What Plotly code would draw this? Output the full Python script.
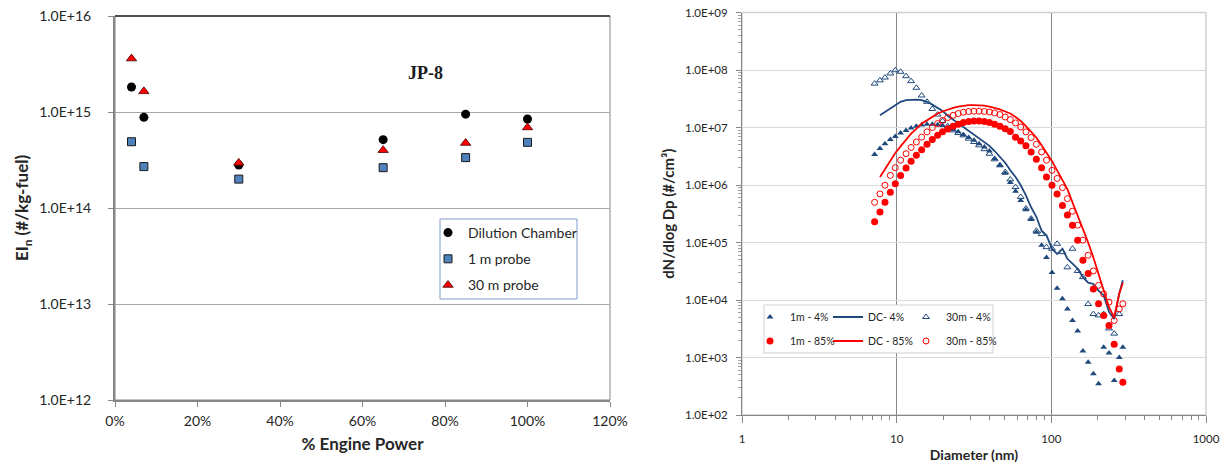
import plotly.graph_objects as go

W, H = 1222, 465

# ---------------- Left chart data ----------------
power_pct = [4, 7, 30, 65, 85, 100]
ei_dilution = [1.82e15, 8.8e14, 2.8e14, 5.15e14, 9.5e14, 8.45e14]
ei_probe_1m = [4.9e14, 2.7e14, 2.0e14, 2.63e14, 3.35e14, 4.83e14]
ei_probe_30m = [3.6e15, 1.64e15, 2.95e14, 4.0e14, 4.75e14, 6.9e14]
left_xticks = [0, 20, 40, 60, 80, 100, 120]
left_xlabels = ["0%", "20%", "40%", "60%", "80%", "100%", "120%"]
left_yticks = [1e12, 1e13, 1e14, 1e15, 1e16]
left_ylabels = ["1.0E+12", "1.0E+13", "1.0E+14", "1.0E+15", "1.0E+16"]

# ---------------- Right chart data ----------------
diameter_nm = [7.2, 7.8, 8.4, 9.1, 9.8, 10.6, 11.5, 12.4, 13.4, 14.5, 15.7, 17.0, 18.4, 19.8,
               21.4, 23.2, 25.0, 27.0, 29.2, 31.6, 34.1, 36.9, 39.8, 43.0, 46.5, 50.3, 54.3,
               58.7, 63.4, 68.5, 74.0, 80.0, 86.5, 93.0, 101, 109, 118, 127, 137, 148, 160,
               173, 187, 202, 218, 236, 255, 275, 290]
n_1m_4 = [3.4e6, 4.3e6, 5.2e6, 6.2e6, 7.0e6, 8.0e6, 8.9e6, 9.8e6, 1.05e7, 1.1e7, 1.14e7, 1.14e7,
          1.12e7, 1.08e7, 1.0e7, 9.2e6, 8.4e6, 7.5e6, 6.7e6, 6.0e6, 5.2e6, 4.6e6, 3.9e6, 2.9e6,
          2.2e6, 1.6e6, 1.1e6, 7.8e5, 5.4e5, 3.7e5, 2.5e5, 1.5e5, 9.0e4, 5.5e4, 3.0e4, 1.6e4,
          1.05e4, 7.0e3, 4.4e3, 2.9e3, 1.3e3, 830, 520, 350, 1.5e3, 1.2e3, 400, 1.0e3, 1.5e3]
n_dc_4 = [None, 1.63e7, 1.86e7, 2.2e7, 2.5e7, 2.8e7, 3.0e7, 3.05e7, 3.05e7, 3.0e7, 2.8e7, 2.5e7,
          2.2e7, 1.94e7, 1.6e7, 1.37e7, 1.17e7, 1.0e7, 8.6e6, 7.5e6, 6.6e6, 5.6e6, 4.8e6, 3.9e6,
          3.07e6, 2.44e6, 1.8e6, 1.38e6, 9.9e5, 6.6e5, 4.1e5, 2.8e5, 1.6e5, 1.33e5, 7.8e4, 6.3e4,
          7.8e4, 5.2e4, 4.3e4, 3.5e4, 2.5e4, 2.0e4, 1.9e4, 1.46e4, 1.2e4, 6.2e3, 4.7e3, 1.3e4, 2.2e4]
n_30m_4 = [5.8e7, 6.6e7, 7.4e7, 8.7e7, 9.9e7, 9.3e7, 7.8e7, 6.4e7, 4.9e7, 3.6e7, 2.8e7, 2.1e7,
           1.68e7, 1.3e7, 1.05e7, 8.9e6, 8.0e6, 7.3e6, 6.4e6, 5.6e6, 4.9e6, 4.2e6, 3.5e6, 2.8e6,
           2.2e6, 1.68e6, 1.25e6, 9.2e5, 6.2e5, 3.9e5, 2.6e5, 1.6e5, 1.4e5, 8.3e4, 7.8e4, 9.5e4,
           6.8e4, 3.7e4, 7.8e4, 3.2e4, 2.5e4, 8.5e3, 5.7e3, 5.4e3, 5.7e3, 3.2e3, 2.6e3, 5.7e3, None]
n_1m_85 = [2.3e5, 3.4e5, 5.0e5, 7.5e5, 1.05e6, 1.47e6, 1.97e6, 2.6e6, 3.3e6, 4.1e6, 5.1e6, 6.2e6,
           7.3e6, 8.4e6, 9.4e6, 1.05e7, 1.14e7, 1.22e7, 1.27e7, 1.3e7, 1.3e7, 1.27e7, 1.22e7,
           1.14e7, 1.05e7, 9.5e6, 8.5e6, 6.8e6, 5.8e6, 4.8e6, 3.75e6, 2.8e6, 2.0e6, 1.38e6, 9.9e5,
           7.0e5, 4.4e5, 3.0e5, 2.0e5, 1.09e5, 4.9e4, 2.9e4, 1.56e4, 8.6e3, 5.4e3, 3.6e3, 1.7e3,
           630, 370]
n_dc_85 = [None, 1.38e6, 1.9e6, 2.75e6, 3.6e6, 4.7e6, 6.2e6, 7.8e6, 9.5e6, 1.17e7, 1.33e7, 1.52e7,
           1.75e7, 1.9e7, 2.07e7, 2.2e7, 2.3e7, 2.4e7, 2.45e7, 2.45e7, 2.45e7, 2.4e7, 2.3e7, 2.2e7,
           2.07e7, 1.9e7, 1.75e7, 1.52e7, 1.3e7, 1.06e7, 8.6e6, 6.7e6, 4.9e6, 3.7e6, 2.6e6, 1.8e6,
           1.2e6, 8.5e5, 5.0e5, 3.0e5, 1.8e5, 1.0e5, 5.5e4, 2.8e4, 1.5e4, 7.5e3, 5.0e3, 1.3e4, 2.0e4]
n_30m_85 = [5.0e5, 7.0e5, 9.9e5, 1.47e6, 2.0e6, 2.7e6, 3.5e6, 4.5e6, 5.6e6, 6.8e6, 8.4e6, 1.0e7,
            1.17e7, 1.33e7, 1.49e7, 1.63e7, 1.75e7, 1.84e7, 1.9e7, 1.92e7, 1.92e7, 1.9e7, 1.86e7,
            1.79e7, 1.68e7, 1.52e7, 1.37e7, 1.2e7, 1.02e7, 8.4e6, 6.7e6, 5.1e6, 3.75e6, 2.7e6,
            1.8e6, 1.3e6, 9.0e5, 5.8e5, 3.5e5, 2.0e5, 1.1e5, 6.0e4, 3.2e4, 1.8e4, 1.28e4, 9.2e3,
            4.4e3, 7.0e3, 8.6e3]
right_xticks = [1, 10, 100, 1000]
right_xlabels = ["1", "10", "100", "1000"]
right_yticks = [1e2, 1e3, 1e4, 1e5, 1e6, 1e7, 1e8, 1e9]
right_ylabels = ["1.0E+02", "1.0E+03", "1.0E+04", "1.0E+05", "1.0E+06", "1.0E+07", "1.0E+08", "1.0E+09"]

BLUE = "#1F497D"
RED = "#FF0000"
FONT = "Lato"
TXT = "#262626"


def px(x):
    return x / W


def py(y):
    return 1 - y / H


fig = go.Figure()

# Left chart traces
fig.add_trace(go.Scatter(x=power_pct, y=ei_dilution, mode="markers", name="Dilution Chamber",
                         marker=dict(symbol="circle", size=9, color="black"),
                         xaxis="x", yaxis="y", legend="legend", legendgroup="g1"))
fig.add_trace(go.Scatter(x=power_pct, y=ei_probe_1m, mode="markers", name="1 m probe",
                         marker=dict(symbol="square", size=8, color="#4F81BD",
                                     line=dict(color="#1a1a1a", width=1)),
                         xaxis="x", yaxis="y", legend="legend", legendgroup="g2"))
fig.add_trace(go.Scatter(x=power_pct, y=ei_probe_30m, mode="markers", name="30 m probe",
                         marker=dict(symbol="triangle-up", size=9, color="#FF0000",
                                     line=dict(color="#400000", width=0.8)),
                         xaxis="x", yaxis="y", legend="legend", legendgroup="g3"))

# Right chart traces
fig.add_trace(go.Scatter(x=diameter_nm, y=n_1m_4, mode="markers", name="1m - 4%",
                         marker=dict(symbol="triangle-up", size=6, color=BLUE),
                         xaxis="x2", yaxis="y2", legend="legend2"))
fig.add_trace(go.Scatter(x=diameter_nm, y=n_dc_4, mode="lines", name="DC- 4%",
                         line=dict(color=BLUE, width=1.8),
                         xaxis="x2", yaxis="y2", legend="legend2"))
fig.add_trace(go.Scatter(x=diameter_nm, y=n_30m_4, mode="markers", name="30m - 4%",
                         marker=dict(symbol="triangle-up-open", size=6, color=BLUE,
                                     line=dict(width=1)),
                         xaxis="x2", yaxis="y2", legend="legend2", legendwidth=60))
fig.add_trace(go.Scatter(x=diameter_nm, y=n_1m_85, mode="markers", name="1m - 85%",
                         marker=dict(symbol="circle", size=7, color=RED),
                         xaxis="x2", yaxis="y2", legend="legend3"))
fig.add_trace(go.Scatter(x=diameter_nm, y=n_dc_85, mode="lines", name="DC - 85%",
                         line=dict(color=RED, width=1.8),
                         xaxis="x2", yaxis="y2", legend="legend3"))
fig.add_trace(go.Scatter(x=diameter_nm, y=n_30m_85, mode="markers", name="30m - 85%",
                         marker=dict(symbol="circle-open", size=6, color=RED,
                                     line=dict(width=1)),
                         xaxis="x2", yaxis="y2", legend="legend3", legendwidth=60))

tickfont_l = dict(family=FONT, size=14, color=TXT)
tickfont_r = dict(family=FONT, size=11.5, color=TXT)
minor_x = [m * d for d in (1, 10, 100) for m in range(2, 10)]
minor_y = [m * 10 ** e for e in range(2, 9) for m in range(2, 10)]

fig.update_layout(
    width=W, height=H,
    margin=dict(l=0, r=0, t=0, b=0),
    paper_bgcolor="white", plot_bgcolor="white",
    font=dict(family=FONT, color=TXT),
    xaxis=dict(domain=[px(115), px(610)], range=[0, 120], tickvals=left_xticks,
               ticktext=left_xlabels, ticks="outside", ticklen=5, tickcolor="#868686",
               ticklabelstandoff=2, ticklabeloverflow="allow",
               showline=True, linecolor="#868686", linewidth=2, showgrid=False,
               zeroline=False, tickfont=tickfont_l, anchor="y", automargin=False,
               title=dict(text="% Engine Power", standoff=10,
                          font=dict(family=FONT, size=17, color=TXT, weight="bold"))),
    yaxis=dict(domain=[py(400), py(16)], type="log", range=[12, 16], tickvals=left_yticks,
               ticktext=left_ylabels, ticks="outside", ticklen=5, tickcolor="#868686",
               ticklabelstandoff=14, ticklabeloverflow="allow",
               showline=True, linecolor="#868686", linewidth=2, showgrid=True,
               gridcolor="#A6A6A6", gridwidth=1, zeroline=False, tickfont=tickfont_l,
               anchor="x", automargin=False,
               title=dict(text="EI<sub>n</sub> (#/kg-fuel)", standoff=6,
                          font=dict(family=FONT, size=17, color=TXT, weight="bold"))),
    xaxis2=dict(domain=[px(742), px(1206)], type="log", range=[0, 3], tickvals=right_xticks,
                ticktext=right_xlabels, ticks="outside", ticklen=7, tickcolor="#868686",
                ticklabelstandoff=6, ticklabeloverflow="allow",
                minor=dict(tickvals=minor_x, ticks="outside", ticklen=4, tickcolor="#868686",
                           showgrid=False),
                showline=True, linecolor="#868686", linewidth=1, showgrid=True,
                gridcolor="#868686", gridwidth=1, zeroline=False, tickfont=tickfont_r,
                anchor="y2", automargin=False,
                title=dict(text="Diameter (nm)", standoff=6,
                           font=dict(family=FONT, size=14, color=TXT, weight="bold"))),
    yaxis2=dict(domain=[py(415), py(12.5)], type="log", range=[2, 9], tickvals=right_yticks,
                ticktext=right_ylabels, ticks="outside", ticklen=5, tickcolor="#868686",
                ticklabelstandoff=6, ticklabeloverflow="allow",
                minor=dict(tickvals=minor_y, ticks="outside", ticklen=3, tickcolor="#A0A0A0",
                           showgrid=False),
                showline=True, linecolor="#868686", linewidth=1, showgrid=True,
                gridcolor="#D9D9D9", gridwidth=1, zeroline=False, tickfont=tickfont_r,
                anchor="x2", automargin=False,
                title=dict(text="dN/dlog Dp (#/cm³)", standoff=6,
                           font=dict(family=FONT, size=15, color=TXT, weight="bold"))),
    legend=dict(x=px(428), y=py(259), xanchor="left", yanchor="middle",
                bgcolor="rgba(0,0,0,0)", borderwidth=0, traceorder="grouped",
                tracegroupgap=5, font=dict(family=FONT, size=14, color=TXT)),
    legend2=dict(orientation="h", x=px(750), y=py(317), xanchor="left", yanchor="middle",
                 bgcolor="rgba(0,0,0,0)", borderwidth=0, entrywidth=33,
                 font=dict(family=FONT, size=10.5, color=TXT)),
    legend3=dict(orientation="h", x=px(750), y=py(341), xanchor="left", yanchor="middle",
                 bgcolor="rgba(0,0,0,0)", borderwidth=0, entrywidth=33,
                 font=dict(family=FONT, size=10.5, color=TXT)),
    shapes=[
        dict(type="rect", xref="x domain", yref="y domain", x0=0, x1=1, y0=0, y1=1,
             line=dict(color="#868686", width=1), layer="below"),
        dict(type="line", xref="x domain", yref="y domain", x0=0, x1=1, y0=1, y1=1,
             line=dict(color="#262626", width=1.5), layer="above"),
        dict(type="rect", xref="paper", yref="paper", x0=px(440), x1=px(577),
             y0=py(299), y1=py(219), line=dict(color="#7F9BCB", width=1),
             fillcolor="white", layer="above"),
        dict(type="rect", xref="x2 domain", yref="y2 domain", x0=0, x1=1, y0=0, y1=1,
             line=dict(color="#D0D0D0", width=1.5), layer="below"),
        dict(type="rect", xref="paper", yref="paper", x0=px(764), x1=px(993),
             y0=py(353), y1=py(305), line=dict(color="#D0D0D0", width=1),
             fillcolor="white", layer="above"),
    ],
    annotations=[
        dict(text="<b>JP-8</b>", xref="paper", yref="paper", x=px(425), y=py(73),
             xanchor="center", yanchor="middle", showarrow=False,
             font=dict(family="Liberation Serif", size=18, color="#1a1a1a")),
    ],
)

# remove the default page margin so the figure starts at the window's top-left corner
fig.write_html("out.html", config={"displayModeBar": False},
               post_script="document.body.style.margin='0';")
